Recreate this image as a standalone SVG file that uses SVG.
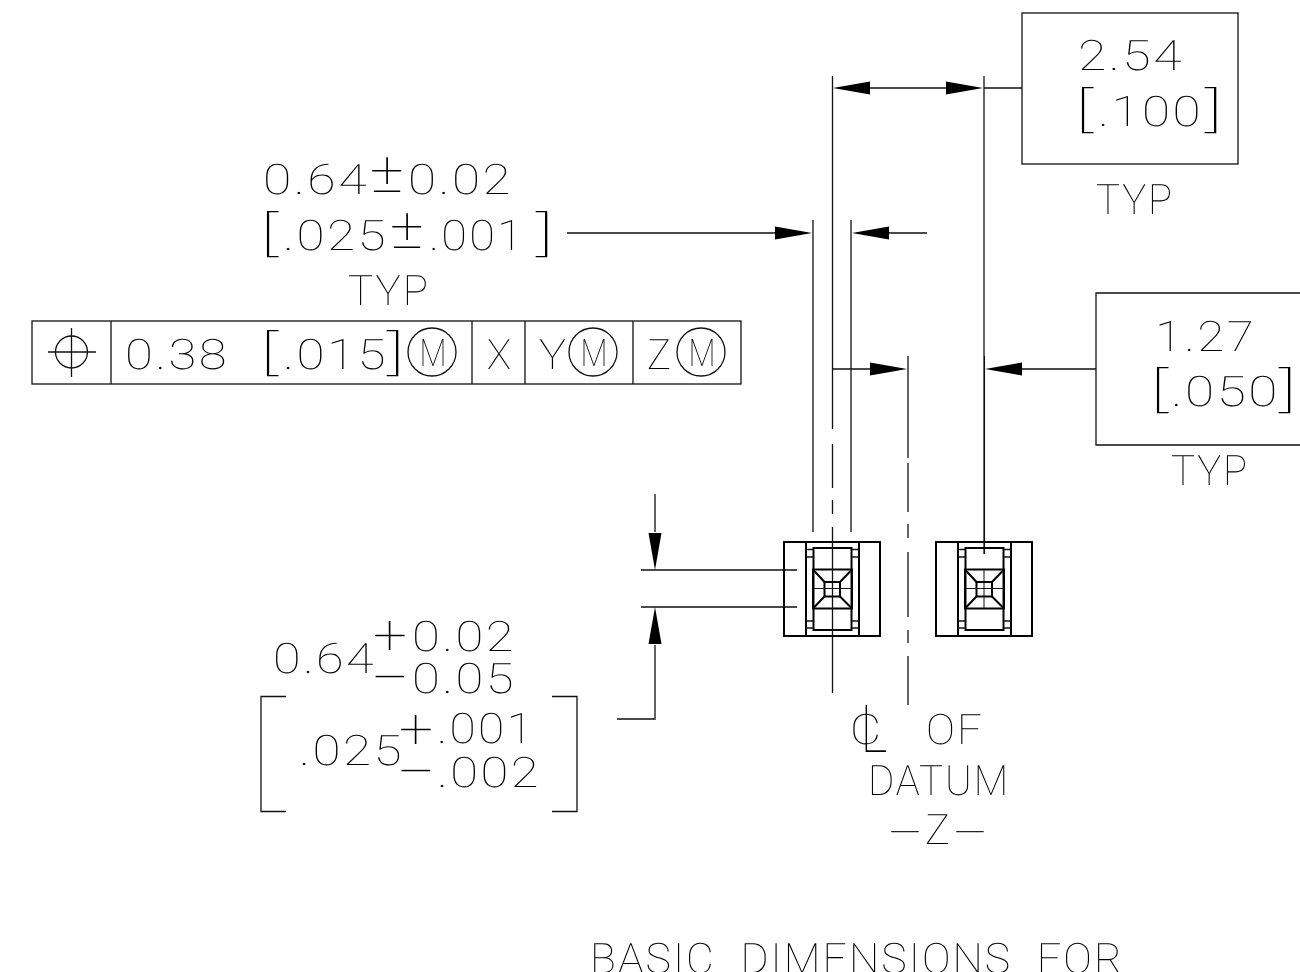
<svg xmlns="http://www.w3.org/2000/svg" width="1300" height="972" viewBox="0 0 1300 972">
<style>
text{font-family:Roboto,"Liberation Sans",sans-serif;font-weight:100;font-size:42px;fill:#000;white-space:pre;text-rendering:geometricPrecision;letter-spacing:2px}
.b{font-size:48px;letter-spacing:0}
.p{font-size:56px;letter-spacing:0}
.m{font-size:38px;letter-spacing:0}
.s{letter-spacing:0}
.l{fill:none;stroke:#111;stroke-width:1.3}
.t{fill:none;stroke:#000;stroke-width:2}
.c{fill:none;stroke:#111;stroke-width:1}
</style>
<defs>
<polygon id="ah" points="0,0 -37,-6.5 -37,6.5" fill="#000"/>
<g id="chip">
<rect class="t" x="784" y="542" width="96" height="94"/>
<path class="t" d="M806 542V636M859 542V636"/>
<rect class="t" x="813.500" y="548" width="38" height="82"/>
<path class="l" d="M806 549.500H813.500M806 557H813.500M851.500 549.500H859M851.500 557H859M806 621H813.500M806 628H813.500M851.500 621H859M851.500 628H859"/>
<rect class="t" x="813" y="569.500" width="39" height="39"/>
<rect class="t" x="824.500" y="582" width="15.500" height="14.500"/>
<path class="t" d="M813 569.500L824.500 582M852 569.500L840 582M813 608.500L824.500 596.500M852 608.500L840 596.500"/>
<path class="c" d="M813 588.500H852"/>
</g>
</defs>
<g style="filter:grayscale(1)">
<g id="connectors">
<path class="l" d="M813 220V532M851 220V532"/>
<path class="l" d="M832.500 76V429M832.500 444V488M832.500 500V514M832.500 527V693"/>
<path class="l" d="M908 356V458M908 463V512M908 524V538M908 552V617M908 630V643M908 656V705"/>
<path class="l" d="M984 76V554M984.400 356V554"/>
<path class="l" d="M870 88H946M984 88H1022"/>
<path class="l" d="M567 233H776M889 233H927"/>
<path class="l" d="M832 369H871M1022 369H1096"/>
<path class="l" d="M641 570H797M641 607H797"/>
<path class="l" d="M655 494V532M655 645V719H617"/>
<use href="#ah" transform="translate(833 88) rotate(180)"/>
<use href="#ah" transform="translate(983 88)"/>
<use href="#ah" transform="translate(812 233)"/>
<use href="#ah" transform="translate(852 233) rotate(180)"/>
<use href="#ah" transform="translate(907 369)"/>
<use href="#ah" transform="translate(985 369) rotate(180)"/>
<use href="#ah" transform="translate(655 570) rotate(90)"/>
<use href="#ah" transform="translate(655 607) rotate(-90)"/>
</g>
<g id="chip-left"><use href="#chip"/><path class="c" d="M832.500 541V636"/></g>
<g id="chip-right"><use href="#chip" x="152"/><path class="c" d="M984 569.500V608.500"/></g>
<g id="dim-254">
<rect class="l" x="1022" y="13" width="216" height="151"/>
<text x="1078" y="70" textLength="106" lengthAdjust="spacingAndGlyphs">2.54</text>
<text x="1074.500" y="126" textLength="18" lengthAdjust="spacingAndGlyphs" class="b">[</text>
<text x="1098" y="126" textLength="105" lengthAdjust="spacingAndGlyphs">.100</text>
<text x="1205" y="126" textLength="18" lengthAdjust="spacingAndGlyphs" class="b">]</text>
<text x="1096" y="214" textLength="78" lengthAdjust="spacingAndGlyphs">TYP</text>
</g>
<g id="dim-127">
<path class="l" d="M1302 293H1096V445H1302"/>
<text x="1155" y="351" textLength="101" lengthAdjust="spacingAndGlyphs">1.27</text>
<text x="1149.500" y="406" textLength="18" lengthAdjust="spacingAndGlyphs" class="b">[</text>
<text x="1171" y="406" textLength="109" lengthAdjust="spacingAndGlyphs">.050</text>
<text x="1279" y="406" textLength="18" lengthAdjust="spacingAndGlyphs" class="b">]</text>
<text x="1171" y="485" textLength="78" lengthAdjust="spacingAndGlyphs">TYP</text>
</g>
<g id="dim-064">
<text x="263" y="194" textLength="106" lengthAdjust="spacingAndGlyphs">0.64</text>
<text x="370" y="192" textLength="34" lengthAdjust="spacingAndGlyphs" class="p">±</text>
<text x="408" y="194" textLength="105" lengthAdjust="spacingAndGlyphs">0.02</text>
<text x="259.500" y="250" textLength="18" lengthAdjust="spacingAndGlyphs" class="b">[</text>
<text x="283" y="250" textLength="105" lengthAdjust="spacingAndGlyphs">.025</text>
<text x="390" y="248" textLength="34" lengthAdjust="spacingAndGlyphs" class="p">±</text>
<text x="429" y="250" textLength="96" lengthAdjust="spacingAndGlyphs">.001</text>
<text x="536" y="250" textLength="18" lengthAdjust="spacingAndGlyphs" class="b">]</text>
<text x="348" y="305" textLength="82" lengthAdjust="spacingAndGlyphs">TYP</text>
</g>
<g id="frame">
<rect class="l" x="32" y="321" width="709" height="63"/>
<path class="l" d="M111 321V384M472 321V384M525 321V384M633 321V384"/>
<circle class="l" cx="71.500" cy="352" r="16"/>
<path class="l" d="M48 352H96M71.500 328V377"/>
<text x="125" y="369" textLength="104" lengthAdjust="spacingAndGlyphs">0.38</text>
<text x="259.500" y="369" textLength="18" lengthAdjust="spacingAndGlyphs" class="b">[</text>
<text x="283" y="369" textLength="105" lengthAdjust="spacingAndGlyphs">.015</text>
<text x="387" y="369" textLength="18" lengthAdjust="spacingAndGlyphs" class="b">]</text>
<circle class="l" cx="432" cy="352" r="24"/>
<text x="419.500" y="366" textLength="27" lengthAdjust="spacingAndGlyphs" class="m">M</text>
<text x="487" y="369" textLength="24" lengthAdjust="spacingAndGlyphs" class="s">X</text>
<text x="539" y="369" textLength="27" lengthAdjust="spacingAndGlyphs" class="s">Y</text>
<circle class="l" cx="593" cy="352" r="24"/>
<text x="580.500" y="366" textLength="27" lengthAdjust="spacingAndGlyphs" class="m">M</text>
<text x="647" y="369" textLength="24" lengthAdjust="spacingAndGlyphs" class="s">Z</text>
<circle class="l" cx="701" cy="352" r="24"/>
<text x="688.500" y="366" textLength="27" lengthAdjust="spacingAndGlyphs" class="m">M</text>
</g>
<g id="dim-tol">
<text x="273" y="673" textLength="103" lengthAdjust="spacingAndGlyphs">0.64</text>
<text x="373" y="654" textLength="34" lengthAdjust="spacingAndGlyphs" class="p">+</text>
<text x="412" y="651" textLength="104" lengthAdjust="spacingAndGlyphs">0.02</text>
<text x="370" y="697" textLength="40" lengthAdjust="spacingAndGlyphs" class="p">−</text>
<text x="412" y="693" textLength="104" lengthAdjust="spacingAndGlyphs">0.05</text>
<path class="l" d="M286 696.500H261V811.500H286M552 696.500H577V811.500H552"/>
<text x="299" y="765" textLength="105" lengthAdjust="spacingAndGlyphs">.025</text>
<text x="399" y="748" textLength="34" lengthAdjust="spacingAndGlyphs" class="p">+</text>
<text x="437" y="743" textLength="98" lengthAdjust="spacingAndGlyphs">.001</text>
<text x="396" y="791" textLength="40" lengthAdjust="spacingAndGlyphs" class="p">−</text>
<text x="437" y="787" textLength="104" lengthAdjust="spacingAndGlyphs">.002</text>
</g>
<g id="datum">
<text x="850" y="744" textLength="31" lengthAdjust="spacingAndGlyphs" class="s">C</text>
<text x="860.500" y="752" textLength="27" lengthAdjust="spacingAndGlyphs" class="s" style="font-size:66px">L</text>
<text x="926" y="744" textLength="58" lengthAdjust="spacingAndGlyphs">OF</text>
<text x="868" y="795" textLength="142" lengthAdjust="spacingAndGlyphs">DATUM</text>
<text x="889" y="847" textLength="32" lengthAdjust="spacingAndGlyphs" class="s">—</text>
<text x="925" y="844" textLength="25" lengthAdjust="spacingAndGlyphs" class="s">Z</text>
<text x="954" y="847" textLength="32" lengthAdjust="spacingAndGlyphs" class="s">—</text>
</g>
<text id="caption" x="590" y="973" textLength="534" lengthAdjust="spacingAndGlyphs">BASIC  DIMENSIONS  FOR</text>
</g>
</svg>
